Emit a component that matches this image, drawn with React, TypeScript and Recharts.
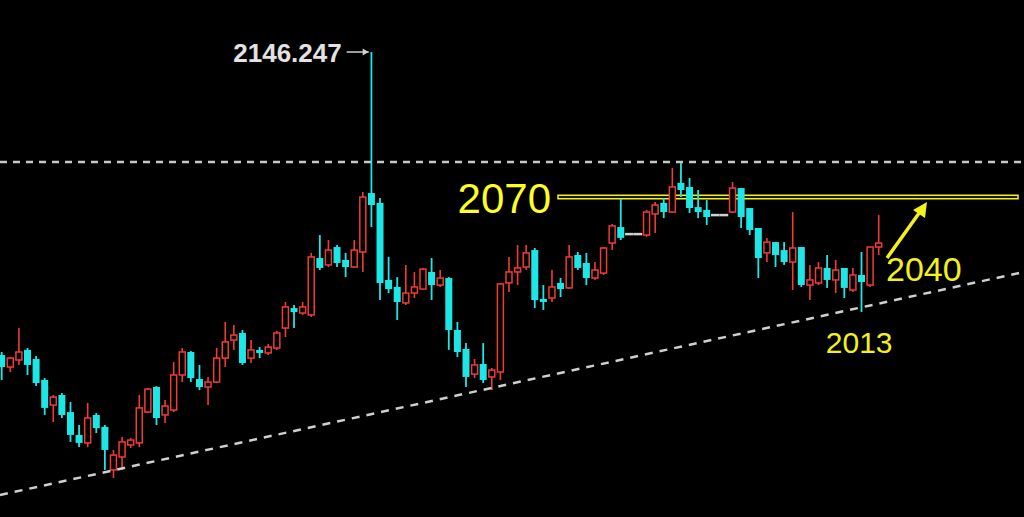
import { Bar, ComposedChart, ReferenceArea, ReferenceDot, ReferenceLine, XAxis, YAxis } from "recharts";

// daily candles, left to right (flat ones are closed sessions)
const opens = [
  1986.9, 1980.6, 1984.3, 1989.6, 1984.8, 1973.8, 1960.6, 1965.9, 1956.9, 1944.9,
  1940.7, 1955.4, 1949.1, 1926.5, 1933.3, 1939.6, 1940.7, 1956.9, 1970.1, 1955.4,
  1958.0, 1976.4, 1988.5, 1974.3, 1970.1, 1972.7, 1985.3, 1994.8, 1998.5, 1985.3,
  1989.6, 1988.0, 1990.6, 2001.1, 2011.6, 2009.0, 2008.0, 2037.9, 2034.3, 2043.7,
  2036.9, 2033.2, 2041.1, 2072.1, 2066.9, 2026.4, 2022.7, 2014.3, 2019.5, 2021.6,
  2030.6, 2023.7, 2027.4, 2000.1, 1990.1, 1976.9, 1982.2, 1975.4, 1978.0, 2024.8,
  2030.6, 2033.2, 2042.1, 2016.4, 2016.9, 2024.8, 2022.2, 2039.5, 2035.3, 2027.4,
  2030.0, 2045.8, 2054.2, 2050.5, 2050.5, 2050.0, 2061.1, 2066.9, 2062.1, 2077.4,
  2075.3, 2064.7, 2063.2, 2060.5, 2060.5, 2062.1, 2074.7, 2064.2, 2053.7, 2040.6,
  2046.3, 2042.1, 2035.8, 2043.7, 2023.7, 2024.8, 2032.7, 2026.4, 2032.7, 2021.1,
  2029.0, 2023.7, 2043.7,
];
const highs = [
  1988.5, 1985.9, 2001.1, 1990.6, 1986.4, 1974.8, 1965.9, 1966.9, 1962.2, 1950.1,
  1961.7, 1956.4, 1950.1, 1937.0, 1943.8, 1943.3, 1965.9, 1969.6, 1970.6, 1963.3,
  1983.2, 1990.6, 1989.0, 1981.7, 1975.4, 1990.6, 2004.3, 2002.7, 2000.1, 1994.8,
  1991.1, 1992.7, 1999.5, 2014.8, 2013.2, 2014.8, 2040.6, 2050.0, 2047.4, 2044.8,
  2040.6, 2047.4, 2072.6, 2146.247, 2069.5, 2038.5, 2027.9, 2034.3, 2030.6, 2032.7,
  2037.9, 2031.6, 2027.9, 2004.3, 1993.2, 1984.8, 1993.2, 1980.1, 2024.8, 2038.5,
  2044.8, 2044.8, 2043.2, 2023.7, 2031.6, 2027.4, 2044.8, 2041.1, 2040.6, 2035.8,
  2043.7, 2055.8, 2069.0, 2050.5, 2050.5, 2063.2, 2067.4, 2069.5, 2085.3, 2087.9,
  2080.0, 2073.7, 2068.4, 2060.5, 2060.5, 2077.9, 2074.7, 2064.2, 2053.7, 2048.4,
  2046.3, 2046.3, 2062.1, 2043.7, 2034.3, 2035.8, 2039.5, 2036.9, 2032.7, 2032.7,
  2041.1, 2043.7, 2060.5,
];
const lows = [
  1973.8, 1978.0, 1981.7, 1976.4, 1970.6, 1955.4, 1951.7, 1953.8, 1941.2, 1938.5,
  1938.5, 1945.9, 1926.5, 1922.2, 1926.5, 1938.0, 1938.5, 1956.4, 1950.1, 1951.2,
  1956.9, 1972.7, 1972.7, 1968.5, 1960.6, 1972.2, 1980.6, 1989.6, 1981.7, 1982.7,
  1985.3, 1986.9, 1989.6, 1996.4, 2001.1, 2008.0, 2006.9, 2031.6, 2033.2, 2033.2,
  2027.9, 2032.7, 2030.6, 2054.2, 2015.8, 2019.5, 2005.3, 2013.2, 2016.9, 2021.1,
  2015.8, 2022.7, 1989.6, 1985.9, 1970.1, 1974.8, 1972.2, 1968.5, 1973.8, 2020.0,
  2023.7, 2031.6, 2011.6, 2010.6, 2014.8, 2017.4, 2021.6, 2031.6, 2023.7, 2026.4,
  2029.0, 2042.1, 2047.4, 2050.5, 2050.5, 2049.0, 2051.1, 2058.9, 2061.6, 2070.0,
  2061.6, 2058.9, 2055.3, 2060.5, 2060.5, 2061.6, 2053.7, 2050.0, 2027.4, 2035.8,
  2033.2, 2034.3, 2021.1, 2022.7, 2015.8, 2023.7, 2022.2, 2019.5, 2016.9, 2020.0,
  2009.5, 2022.7, 2039.5,
];
const closes = [
  1980.6, 1985.3, 1988.5, 1981.7, 1972.2, 1959.1, 1964.8, 1955.4, 1944.9, 1940.7,
  1953.8, 1948.5, 1937.0, 1934.3, 1941.2, 1942.2, 1959.1, 1969.0, 1953.8, 1960.1,
  1976.4, 1988.5, 1974.8, 1970.1, 1972.7, 1985.3, 1993.8, 1997.4, 1982.7, 1989.6,
  1988.0, 1991.1, 1998.5, 2012.2, 2009.5, 2012.2, 2038.5, 2032.7, 2042.1, 2035.3,
  2033.2, 2042.1, 2070.0, 2065.8, 2024.8, 2021.6, 2014.8, 2019.5, 2022.7, 2032.1,
  2023.7, 2027.4, 2000.1, 1988.5, 1975.4, 1981.7, 1973.8, 1979.0, 2024.3, 2030.6,
  2032.7, 2040.6, 2015.8, 2014.8, 2022.7, 2021.6, 2038.5, 2032.7, 2027.4, 2031.6,
  2043.2, 2054.8, 2048.5, 2050.5, 2050.5, 2062.1, 2065.8, 2062.1, 2075.3, 2073.7,
  2064.2, 2062.1, 2059.5, 2060.5, 2060.5, 2074.7, 2059.5, 2052.7, 2037.9, 2046.3,
  2039.5, 2035.8, 2043.2, 2023.7, 2026.4, 2032.7, 2026.4, 2031.6, 2022.2, 2029.0,
  2025.3, 2043.7, 2045.8,
];

// annotations
const peakIndex = 43;
const peakPrice = 2146.247;
const resistance = 2070;
const rangeHigh = 2088.4;
const boxStart = 64.67;
const boxEnd = 118.17;
const trendline = [
  { x: -0.2326, y: 1913.3 },
  { x: 118.865, y: 2030.6 },
];
const targetIndex = 102;
const targetPrice = 2045.8;
const lowIndex = 100;
const lowPrice = 2009.5;
const labels = { resistance: "2070", target: "2040", low: "2013", peak: "2146.247" };

const UP = "#f03b36";
const DOWN = "#1ce6e6";
const FLAT = "#d0d0d0";
const YELLOW = "#f4f01c";
const FONT = "'Liberation Sans', Arial, sans-serif";

const data = opens.map((open, i) => ({ i, open, high: highs[i], low: lows[i], close: closes[i] }));

function Candle(props: any) {
  const { x, y, width, height, payload } = props;
  const { open, high, low, close } = payload;
  const cx = x + width / 2;
  const top = height >= 0 ? y : y + height;
  const span = Math.abs(height);
  if (high === low) {
    return <line x1={cx - 4.3} x2={cx + 4.3} y1={top} y2={top} stroke={FLAT} strokeWidth={2.5} />;
  }
  const k = span / (high - low);
  const bTop = top + (high - Math.max(open, close)) * k;
  const bBot = top + (high - Math.min(open, close)) * k;
  const bh = Math.max(bBot - bTop, 1.5);
  if (close >= open) {
    return (
      <g>
        <line x1={cx} x2={cx} y1={top} y2={top + span} stroke={UP} strokeWidth={1.6} />
        <rect x={cx - 3} y={bTop} width={6} height={bh} fill="#000" stroke={UP} strokeWidth={1.5} />
      </g>
    );
  }
  return (
    <g>
      <line x1={cx} x2={cx} y1={top} y2={top + span} stroke={DOWN} strokeWidth={1.8} />
      <rect x={cx - 3.5} y={bTop} width={7} height={bh} fill={DOWN} />
    </g>
  );
}

export default function App() {
  return (
    <div style={{ position: "absolute", left: 0, top: 0, width: 1024, height: 517, background: "#000" }}>
      <ComposedChart width={1024} height={517} data={data} margin={{ top: 0, right: 0, bottom: 0, left: 0 }}>
        <XAxis type="number" dataKey="i" domain={[-0.2326, 118.865]} allowDataOverflow hide />
        <YAxis type="number" domain={[1901.74, 2173.6]} allowDataOverflow hide />
        <ReferenceLine y={rangeHigh} stroke="#c8c8c8" strokeWidth={2.5} strokeDasharray="7 6" />
        <ReferenceLine segment={trendline} stroke="#cfcfcf" strokeWidth={2.5} strokeDasharray="8 7" ifOverflow="visible" />
        <ReferenceArea x1={boxStart} x2={boxEnd} y1={resistance - 0.9} y2={resistance + 0.9} fill="#1a1a00" fillOpacity={1} stroke={YELLOW} strokeWidth={1.5} ifOverflow="visible" />
        <Bar dataKey={(d: any) => [d.low, d.high]} barSize={6} shape={Candle} isAnimationActive={false} />
        <ReferenceDot
          x={peakIndex}
          y={peakPrice}
          r={0}
          ifOverflow="visible"
          shape={(p: any) => (
            <g>
              <text x={p.cx - 30} y={p.cy + 10} textAnchor="end" fontFamily={FONT} fontWeight="bold" fontSize={26} fill="#e2e2e2">
                {labels.peak}
              </text>
              <line x1={p.cx - 25} x2={p.cx - 3} y1={p.cy} y2={p.cy} stroke="#d0d0d0" strokeWidth={1.5} />
              <path d={`M${p.cx - 3} ${p.cy} l-6 -3.5 v7 z`} fill="#d0d0d0" />
            </g>
          )}
        />
        <ReferenceDot
          x={boxStart}
          y={resistance}
          r={0}
          ifOverflow="visible"
          shape={(p: any) => (
            <text x={p.cx - 7} y={p.cy + 16} textAnchor="end" fontFamily={FONT} fontSize={42} fill="#ffff22">
              {labels.resistance}
            </text>
          )}
        />
        <ReferenceDot
          x={targetIndex}
          y={targetPrice}
          r={0}
          ifOverflow="visible"
          shape={(p: any) => (
            <g>
              <text x={p.cx + 7} y={p.cy + 38} fontFamily={FONT} fontSize={34} fill={YELLOW}>
                {labels.target}
              </text>
              <line x1={p.cx + 8} y1={p.cy + 15} x2={p.cx + 43} y2={p.cy - 34} stroke={YELLOW} strokeWidth={3.5} />
              <path d={`M${p.cx + 48} ${p.cy - 41} L${p.cx + 34} ${p.cy - 33} L${p.cx + 46} ${p.cy - 25} Z`} fill={YELLOW} />
            </g>
          )}
        />
        <ReferenceDot
          x={lowIndex}
          y={lowPrice}
          r={0}
          ifOverflow="visible"
          shape={(p: any) => (
            <text x={p.cx - 36} y={p.cy + 41} fontFamily={FONT} fontSize={30} fill={YELLOW}>
              {labels.low}
            </text>
          )}
        />
      </ComposedChart>
    </div>
  );
}
